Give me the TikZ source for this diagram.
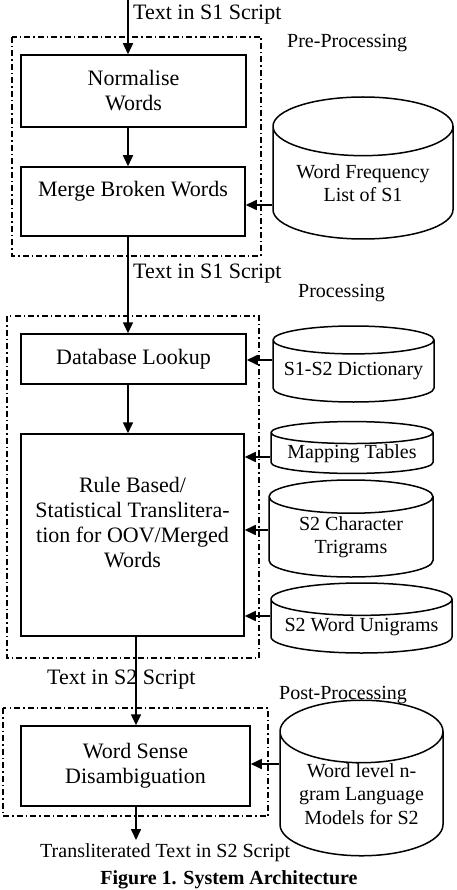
\documentclass[tikz,border=0pt]{standalone}
\usepackage{fontspec}
\setmainfont{Liberation Serif}
\usetikzlibrary{arrows.meta,shapes.geometric}

\tikzset{
  procbox/.style={draw,line width=1.5pt,inner sep=0pt,align=center,
    font=\fontsize{22}{25}\selectfont},
  dbcyl/.style={draw,line width=1.5pt,cylinder,shape border rotate=90,
    inner sep=0pt,align=center,anchor=shape center,
    font=\fontsize{20}{23.5}\selectfont},
  stage/.style={line width=1.1pt,dash pattern=on 6pt off 3pt on 1.5pt off 3pt},
  flow/.style={line width=1.6pt,-{Triangle[length=11pt,width=10pt]}},
  lbl/.style={anchor=west,inner sep=0pt,font=\fontsize{22}{25}\selectfont},
  stagelbl/.style={anchor=west,inner sep=0pt,font=\fontsize{20}{24}\selectfont}
}

\begin{document}
\begin{tikzpicture}[x=1pt,y=-1pt]
  \useasboundingbox (0,0) rectangle (456,890);

  % input text
  \coordinate (in1) at (128,0);
  \node[lbl] (t1) at (133,15) {Text in S1 Script};

  % pre-processing stage
  \draw[stage] (12,37) rectangle (261,256);
  \node[stagelbl] (pre) at (287,43) {Pre-Processing};
  \node[procbox,minimum width=225pt,minimum height=72pt] (norm) at (133.5,91) {Normalise\\Words};
  \node[procbox,minimum width=224pt,minimum height=69pt] (merge) at (133,201.5) {Merge Broken Words\\\mbox{}};
  \node[dbcyl,minimum width=180pt,minimum height=142pt,aspect=0.44] (wfl) at (363,168) {Word Frequency\\List of S1};

  \draw[flow] (in1) -- (norm.north -| in1);
  \draw[flow] (norm.south -| in1) -- (merge.north -| in1);
  \draw[flow] (wfl.west |- 0,205) -- (merge.east |- 0,205);

  % processing stage
  \node[lbl] (t2) at (133,274) {Text in S1 Script};
  \draw[stage] (7,316) rectangle (259,658);
  \node[stagelbl] (proc) at (298,293) {Processing};
  \node[procbox,minimum width=225pt,minimum height=50pt] (dblook) at (133.5,359) {Database Lookup};
  \node[procbox,minimum width=223pt,minimum height=202pt] (rule) at (132.5,535) {Rule Based/\\Statistical Translitera-\\tion for OOV/Merged\\Words\\\mbox{}};

  \node[dbcyl,minimum width=161pt,minimum height=76pt,aspect=0.2] (dict) at (353.5,364) {S1-S2 Dictionary};
  \node[dbcyl,minimum width=162pt,minimum height=51pt,aspect=0.17] (map) at (352,447.5) {Mapping Tables};
  \node[dbcyl,minimum width=164pt,minimum height=97pt,aspect=0.32] (trig) at (351,528.5) {S2 Character\\Trigrams};
  \node[dbcyl,minimum width=181pt,minimum height=70pt,aspect=0.21] (uni) at (361.5,618) {S2 Word Unigrams};

  \draw[flow] (merge.south -| in1) -- (dblook.north -| in1);
  \draw[flow] (dblook.south -| in1) -- (rule.north -| in1);
  \draw[flow] (dict.west |- 0,360) -- (dblook.east |- 0,360);
  \draw[flow] (map.west |- 0,457) -- (rule.east |- 0,457);
  \draw[flow] (trig.west |- 0,530) -- (rule.east |- 0,530);
  \draw[flow] (uni.west |- 0,616) -- (rule.east |- 0,616);

  % post-processing stage
  \coordinate (in2) at (136,0);
  \node[lbl] (t3) at (47,680) {Text in S2 Script};
  \draw[stage] (3,708) rectangle (268,816);
  \node[stagelbl] (post) at (279,695) {Post-Processing};
  \node[procbox,minimum width=229pt,minimum height=80pt] (wsd) at (135.5,766) {Word Sense\\Disambiguation};
  \node[dbcyl,minimum width=163pt,minimum height=144pt,aspect=0.5] (lm) at (361.5,778) {Word level n-\\gram Language\\Models for S2};

  \draw[flow] (rule.south -| in2) -- (wsd.north -| in2);
  \draw[flow] (lm.west |- 0,764) -- (wsd.east |- 0,764);

  % output text and caption
  \coordinate (out) at (136,840);
  \draw[flow] (wsd.south -| out) -- (out);
  \node[stagelbl] (t4) at (40,853) {Transliterated Text in S2 Script};
  \node[font=\bfseries\fontsize{20}{24}\selectfont] (cap) at (229,880) {Figure 1. System Architecture};

\end{tikzpicture}
\end{document}
